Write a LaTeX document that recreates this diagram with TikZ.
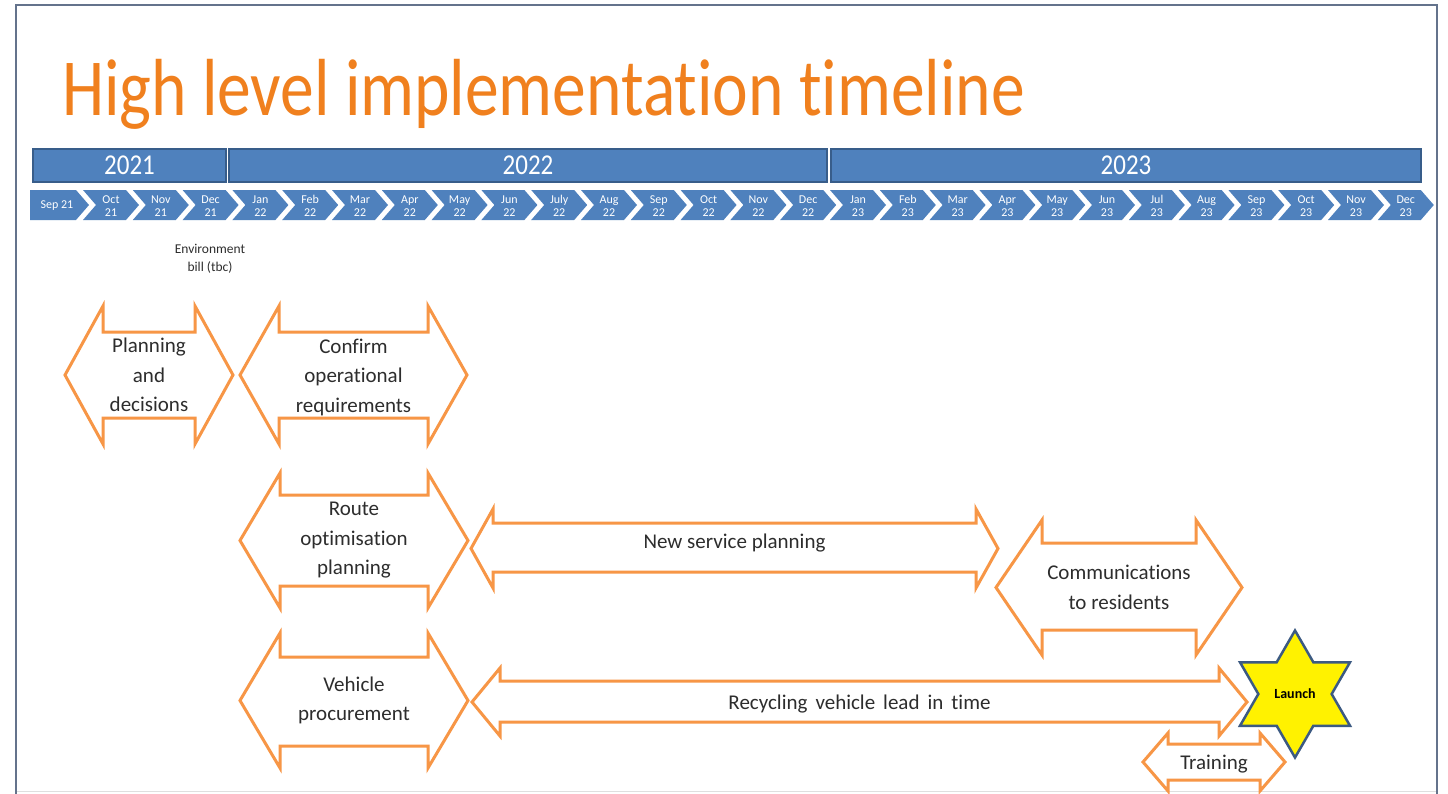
\documentclass[tikz,border=0pt]{standalone}
\usepackage{fontspec}
\setmainfont{Carlito}[Ligatures={NoCommon}]
\usetikzlibrary{shapes.geometric}
\definecolor{barblue}{RGB}{79,129,189}
\definecolor{baredge}{RGB}{56,93,138}
\definecolor{arroworange}{RGB}{247,150,70}
\definecolor{titleorange}{RGB}{240,128,30}
\definecolor{labelgrey}{RGB}{45,45,45}
\definecolor{framegrey}{RGB}{100,115,140}
\definecolor{starblue}{RGB}{60,90,130}

% vertical nudge for the label of the next block arrow
\def\twowaydy{0}
% two-headed block arrow: name, left tip x, right tip x, head top y,
% shaft top y, shaft bottom y, head bottom y, head length, text
\newcommand\twoway[9]{%
  \draw[arrowline] (#2,{(#4+#7)/2}) -- (#2+#8,#4) -- (#2+#8,#5) -- (#3-#8,#5)
    -- (#3-#8,#4) -- (#3,{(#4+#7)/2}) -- (#3-#8,#7) -- (#3-#8,#6)
    -- (#2+#8,#6) -- (#2+#8,#7) -- cycle;
  \node[arrowtext] (#1) at ({(#2+#3)/2},{(#4+#7)/2+\twowaydy}) {#9};}

\begin{document}
\begin{tikzpicture}[x=1pt,y=-1pt,
  yearbox/.style={fill=barblue,draw=baredge,line width=2pt,inner sep=0,
    text=white,font=\fontsize{25}{25}\selectfont},
  chevron/.style={fill=barblue},
  monthtext/.style={text=white,font=\fontsize{12}{13}\selectfont,align=center,inner sep=0},
  arrowline/.style={draw=arroworange,line width=3pt,fill=white,line join=miter},
  arrowtext/.style={text=labelgrey,font=\fontsize{21}{29.5}\selectfont,align=center,inner sep=0},
]
\useasboundingbox (0,0) rectangle (1448,793);
\fill[white] (0,0) rectangle (1448,793);

% page frame
\draw[gray!25,line width=1pt] (16,791.5) -- (1437,791.5);
\draw[framegrey,line width=2pt] (16,800) -- (16,5) -- (1437,5) -- (1437,800);

% title
\node[anchor=base west,inner sep=0,text=titleorange,font=\fontsize{67.5}{70}\selectfont]
  (title) at (62,115) {\scalebox{1}[1.2]{High level implementation timeline}};

% years
\node[yearbox,minimum width=193pt,minimum height=33pt] (y2021) at (129.5,165.5) {\scalebox{1}[1.15]{2021}};
\node[yearbox,minimum width=598pt,minimum height=33pt] (y2022) at (528,165.5) {\scalebox{1}[1.15]{2022}};
\node[yearbox,minimum width=590pt,minimum height=33pt] (y2023) at (1126,165.5) {\scalebox{1}[1.15]{2023}};

% months
\fill[chevron] (30,190) -- (76,190) -- (89,205) -- (76,220) -- (30,220) -- cycle;
\node[monthtext] (m0) at (57,205.5) {Sep 21};
\foreach \lab [count=\k from 1] in {{Oct\\21},{Nov\\21},{Dec\\21},
  {Jan\\22},{Feb\\22},{Mar\\22},{Apr\\22},{May\\22},{Jun\\22},{July\\22},{Aug\\22},
  {Sep\\22},{Oct\\22},{Nov\\22},{Dec\\22},
  {Jan\\23},{Feb\\23},{Mar\\23},{Apr\\23},{May\\23},{Jun\\23},{Jul\\23},{Aug\\23},
  {Sep\\23},{Oct\\23},{Nov\\23},{Dec\\23}}{
  \pgfmathsetmacro\xo{33.2+49.8*\k}
  \fill[chevron] (\xo,190) -- (\xo+43,190) -- (\xo+56,205) -- (\xo+43,220)
    -- (\xo,220) -- (\xo+13,205) -- cycle;
  \node[monthtext] (m\k) at (\xo+28,205) {\strut\lab};
}

% milestone note
\node[text=labelgrey,font=\fontsize{13.5}{18}\selectfont,align=center,inner sep=0]
  (envbill) at (210,259) {Environment\\bill (tbc)};

% activities
\twoway{plan}{65}{233}{306}{332}{418}{444}{38}{Planning\\and\\decisions}
\def\twowaydy{2}
\twoway{confirm}{240}{467}{306}{332}{418}{444}{39}{Confirm\\operational\\requirements}
\def\twowaydy{0}
\twoway{route}{240}{468}{473}{495}{586}{608}{40}{Route\\optimisation\\planning}
\twoway{vehicle}{240}{468}{633}{657}{746}{768}{40}{Vehicle\\procurement}
\def\twowaydy{-5}
\twoway{newsvc}{471}{998}{509}{523}{572}{588}{22}{New service planning}
\def\twowaydy{2}
\twoway{leadin}{472}{1247}{668}{681}{722}{736}{28}{Recycling\hspace{8pt}vehicle\hspace{8pt}lead\hspace{8pt}in\hspace{8pt}time}
\def\twowaydy{0}
\twoway{comms}{996}{1242}{520}{543}{630}{655}{46}{Communications\\to residents}
\def\twowaydy{2}
\twoway{training}{1143}{1285}{733}{744}{780}{791}{25}{Training}

% launch
\node[star,star points=6,star point ratio=1.732,minimum size=127pt,inner sep=0,
  fill=yellow,draw=starblue,line width=2.5pt,font=\bfseries\fontsize{14}{14}\selectfont]
  (launch) at (1295,694) {Launch};
\end{tikzpicture}
\end{document}
